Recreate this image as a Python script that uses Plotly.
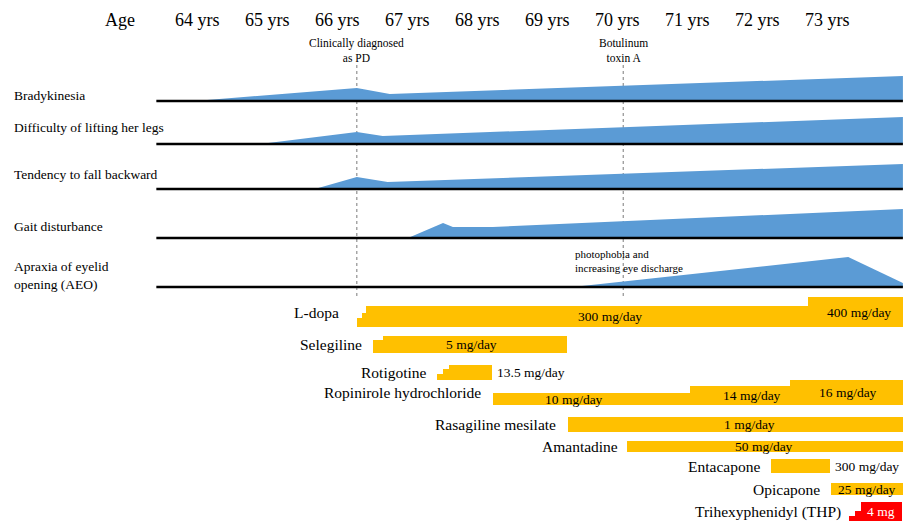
import plotly.graph_objects as go

# ---------------- data ----------------
age_ticks = [64, 65, 66, 67, 68, 69, 70, 71, 72, 73]
age_tick_labels = ["64 yrs", "65 yrs", "66 yrs", "67 yrs", "68 yrs",
                   "69 yrs", "70 yrs", "71 yrs", "72 yrs", "73 yrs"]

symptom_names = ["Bradykinesia", "Difficulty of lifting her legs",
                 "Tendency to fall backward", "Gait disturbance",
                 "Apraxia of eyelid<br>opening (AEO)"]
brady_age = [63.97, 66.28, 66.75, 74.07, 74.07]
brady_sev = [0, 13, 7, 25, 0]
legs_age = [64.90, 66.28, 66.65, 74.07, 74.07]
legs_sev = [0, 12, 8, 27, 0]
fall_age = [65.68, 66.28, 66.72, 74.07, 74.07]
fall_sev = [0, 12, 7, 25, 0]
gait_age = [67.01, 67.51, 67.65, 68.22, 74.07, 74.07]
gait_sev = [0, 15, 11, 11, 29, 0]
aeo_age = [69.36, 73.29, 74.07, 74.07]
aeo_sev = [0, 30, 4, 0]

event_labels = ["Clinically diagnosed<br>as PD", "Botulinum<br>toxin A"]
event_ages = [66.28, 70.08]
aeo_note = "photophobia and<br>increasing eye discharge"
aeo_note_age = 69.36

drug_names = ["L-dopa", "Selegiline", "Rotigotine", "Ropinirole hydrochloride",
              "Rasagiline mesilate", "Amantadine", "Entacapone", "Opicapone",
              "Trihexyphenidyl (THP)"]
# segments: start age, end age, dose level (bar height), label, label age
ldopa_start = [66.28, 66.35, 66.41, 72.72]
ldopa_end = [66.35, 66.41, 72.72, 74.07]
ldopa_level = [9, 14, 21, 30]
ldopa_text = ["", "", "300 mg/day", "400 mg/day"]
ldopa_text_age = [None, None, 69.89, 73.45]

seleg_start = [66.51, 66.65]
seleg_end = [66.65, 69.28]
seleg_level = [13, 17]
seleg_text = ["", "5 mg/day"]
seleg_text_age = [None, 67.91]

rotig_start = [67.42, 67.51, 67.60]
rotig_end = [67.51, 67.60, 68.21]
rotig_level = [6, 11, 15]
rotig_text = ["", "", "13.5 mg/day"]
rotig_text_age = [None, None, "after"]

ropin_start = [68.22, 71.03, 72.46]
ropin_end = [71.03, 72.46, 74.07]
ropin_level = [12, 19, 25]
ropin_text = ["10 mg/day", "14 mg/day", "16 mg/day"]
ropin_text_age = [69.38, 71.92, 73.29]

rasag_start = [69.29]
rasag_end = [74.07]
rasag_level = [15]
rasag_text = ["1 mg/day"]
rasag_text_age = [71.88]

amant_start = [70.13]
amant_end = [74.07]
amant_level = [11]
amant_text = ["50 mg/day"]
amant_text_age = [72.09]

entac_start = [72.19]
entac_end = [73.03]
entac_level = [14]
entac_text = ["300 mg/day"]
entac_text_age = ["after"]

opica_start = [73.04]
opica_end = [74.07]
opica_level = [12]
opica_text = ["25 mg/day"]
opica_text_age = [73.56]

thp_start = [73.30, 73.38, 73.47]
thp_end = [73.38, 73.47, 74.06]
thp_level = [5, 10, 19]
thp_text = ["", "", "4 mg"]
thp_text_age = [None, None, 73.76]

# ---------------- layout constants ----------------
W, H = 905, 524
PXY = 70.1                      # pixels per year
X0 = 64 - 197 / PXY
X1 = X0 + W / PXY
FONT = "Liberation Serif, Times New Roman, serif"
BLUE = "#5B9BD5"
GOLD = "#FFC000"
RED = "#FF0000"
TXT = "#000000"


def py(px):
    return H - px


symptom_base_px = [101, 144, 189, 238, 287]
symptom_label_px = [95, 128, 174, 226, 275]
drug_bottom_px = [327, 353, 380, 405, 432, 452, 473, 495, 521]
drug_label_shift = [-16, -9, -8, -10, -10, -7, -9, -9, -6]
timeline = [63.42, 74.07]

fig = go.Figure()
ann = []

# age header
ann.append(dict(x=120 / W, y=py(20) / H, xref="paper", yref="paper", text="Age",
                xanchor="center", yanchor="middle",
                showarrow=False, font=dict(size=18, family=FONT, color=TXT)))
for a, t in zip(age_ticks, age_tick_labels):
    ann.append(dict(x=a, y=py(20), xref="x", yref="y", text=t, showarrow=False,
                    xanchor="center", yanchor="middle",
                    font=dict(size=18, family=FONT, color=TXT)))

# event lines
for lab, a in zip(event_labels, event_ages):
    fig.add_trace(go.Scatter(x=[a, a], y=[py(65), py(296)], mode="lines",
                             line=dict(color="#7a7a7a", width=1, dash="dot"),
                             hoverinfo="skip", showlegend=False))
    ann.append(dict(x=a, y=py(50), xref="x", yref="y", text=lab, showarrow=False,
                    xanchor="center", yanchor="middle",
                    font=dict(size=11.5, family=FONT, color=TXT)))

# symptom areas
sym_ages = [brady_age, legs_age, fall_age, gait_age, aeo_age]
sym_sevs = [brady_sev, legs_sev, fall_sev, gait_sev, aeo_sev]
for name, ages, sevs, bpx, lpx in zip(symptom_names, sym_ages, sym_sevs,
                                      symptom_base_px, symptom_label_px):
    base = py(bpx)
    fig.add_trace(go.Scatter(x=ages, y=[base + s for s in sevs], mode="lines",
                             fill="toself", fillcolor=BLUE, line=dict(width=0, color=BLUE),
                             hoverinfo="skip", showlegend=False))
    fig.add_trace(go.Scatter(x=timeline, y=[base, base], mode="lines",
                             line=dict(color="black", width=2.6),
                             hoverinfo="skip", showlegend=False))
    ann.append(dict(x=12 / W, y=py(lpx) / H, xref="paper", yref="paper", text=name,
                    xanchor="left", yanchor="middle", align="left", showarrow=False,
                    font=dict(size=13.5, family=FONT, color=TXT)))

ann.append(dict(x=aeo_note_age, y=py(261), xref="x", yref="y", text=aeo_note,
                xanchor="left", yanchor="middle", align="left", showarrow=False,
                font=dict(size=11, family=FONT, color=TXT)))

# drugs
drug_starts = [ldopa_start, seleg_start, rotig_start, ropin_start, rasag_start,
               amant_start, entac_start, opica_start, thp_start]
drug_ends = [ldopa_end, seleg_end, rotig_end, ropin_end, rasag_end,
             amant_end, entac_end, opica_end, thp_end]
drug_levels = [ldopa_level, seleg_level, rotig_level, ropin_level, rasag_level,
               amant_level, entac_level, opica_level, thp_level]
drug_texts = [ldopa_text, seleg_text, rotig_text, ropin_text, rasag_text,
              amant_text, entac_text, opica_text, thp_text]
drug_text_ages = [ldopa_text_age, seleg_text_age, rotig_text_age, ropin_text_age,
                  rasag_text_age, amant_text_age, entac_text_age, opica_text_age,
                  thp_text_age]

for i, name in enumerate(drug_names):
    st, en, lv = drug_starts[i], drug_ends[i], drug_levels[i]
    base = py(drug_bottom_px[i])
    color = RED if i == len(drug_names) - 1 else GOLD
    fig.add_trace(go.Bar(x=[(s + e) / 2 for s, e in zip(st, en)],
                         width=[e - s for s, e in zip(st, en)],
                         y=lv, base=[base] * len(lv),
                         marker=dict(color=color, line=dict(width=0)),
                         hoverinfo="skip", showlegend=False))
    ann.append(dict(x=st[0], y=base + max(lv) / 2, xref="x", yref="y", text=name,
                    xanchor="right", yanchor="middle", xshift=drug_label_shift[i],
                    showarrow=False, font=dict(size=15.5, family=FONT, color=TXT)))
    for k, (t, ta) in enumerate(zip(drug_texts[i], drug_text_ages[i])):
        if not t:
            continue
        yc = base + lv[k] / 2
        fcol = "white" if color == RED else TXT
        if ta == "after":
            ann.append(dict(x=en[k], y=yc, xref="x", yref="y", text=t, xanchor="left",
                            yanchor="middle", xshift=3, showarrow=False,
                            font=dict(size=13.5, family=FONT, color=TXT)))
        else:
            ann.append(dict(x=ta, y=yc, xref="x", yref="y", text=t, showarrow=False,
                            xanchor="center", yanchor="middle",
                            font=dict(size=13.5, family=FONT, color=fcol)))

fig.update_layout(
    width=W, height=H, autosize=False,
    margin=dict(l=0, r=0, t=0, b=0),
    paper_bgcolor="white", plot_bgcolor="white",
    barmode="overlay", bargap=0,
    xaxis=dict(range=[X0, X1], visible=False, fixedrange=True),
    yaxis=dict(range=[0, H], visible=False, fixedrange=True),
    annotations=ann,
    showlegend=False,
)

fig.write_html("out.html", config={"displayModeBar": False},
               post_script="document.body.style.margin='0px';"
                           "document.body.style.overflow='hidden';")
